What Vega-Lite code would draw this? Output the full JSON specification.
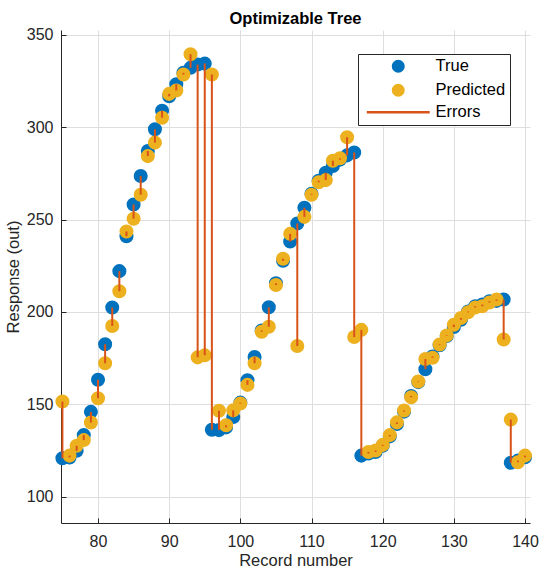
{
  "$schema": "https://vega.github.io/schema/vega-lite/v6.json",
  "autosize": {"type": "none"},
  "padding": {"left": 61, "top": 30, "right": 10, "bottom": 52},
  "width": 469,
  "height": 493,
  "background": "white",
  "title": {"text": "Optimizable Tree", "fontSize": 16.5, "fontWeight": "bold", "font": "Liberation Sans", "color": "#000000", "anchor": "middle", "frame": "group", "offset": -14, "baseline": "alphabetic"},
  "data": {"values": [
    {"r": 75, "True": 120.8, "Predicted": 151.5},
    {"r": 76, "True": 121.2, "Predicted": 122.2},
    {"r": 77, "True": 124.8, "Predicted": 127.5},
    {"r": 78, "True": 133.3, "Predicted": 130.6},
    {"r": 79, "True": 145.9, "Predicted": 140.1},
    {"r": 80, "True": 163.3, "Predicted": 153.3},
    {"r": 81, "True": 182.5, "Predicted": 172.2},
    {"r": 82, "True": 202.4, "Predicted": 192.4},
    {"r": 83, "True": 222.1, "Predicted": 211.2},
    {"r": 84, "True": 241.0, "Predicted": 243.6},
    {"r": 85, "True": 258.2, "Predicted": 250.5},
    {"r": 86, "True": 273.6, "Predicted": 263.5},
    {"r": 87, "True": 287.2, "Predicted": 284.4},
    {"r": 88, "True": 298.9, "Predicted": 291.7},
    {"r": 89, "True": 309.0, "Predicted": 305.2},
    {"r": 90, "True": 316.8, "Predicted": 318.1},
    {"r": 91, "True": 323.3, "Predicted": 319.9},
    {"r": 92, "True": 329.5, "Predicted": 328.6},
    {"r": 93, "True": 332.2, "Predicted": 339.6},
    {"r": 94, "True": 334.0, "Predicted": 175.4},
    {"r": 95, "True": 334.5, "Predicted": 176.5},
    {"r": 96, "True": 136.2, "Predicted": 328.6},
    {"r": 97, "True": 136.0, "Predicted": 146.5},
    {"r": 98, "True": 137.5, "Predicted": 138.6},
    {"r": 99, "True": 143.1, "Predicted": 146.7},
    {"r": 100, "True": 150.9, "Predicted": 150.4},
    {"r": 101, "True": 163.0, "Predicted": 160.5},
    {"r": 102, "True": 175.6, "Predicted": 172.2},
    {"r": 103, "True": 190.0, "Predicted": 189.3},
    {"r": 104, "True": 202.5, "Predicted": 192.0},
    {"r": 105, "True": 215.5, "Predicted": 214.6},
    {"r": 106, "True": 227.7, "Predicted": 228.8},
    {"r": 107, "True": 238.2, "Predicted": 242.3},
    {"r": 108, "True": 247.9, "Predicted": 181.6},
    {"r": 109, "True": 256.4, "Predicted": 251.5},
    {"r": 110, "True": 264.0, "Predicted": 263.5},
    {"r": 111, "True": 271.1, "Predicted": 270.2},
    {"r": 112, "True": 275.4, "Predicted": 271.4},
    {"r": 113, "True": 279.0, "Predicted": 281.9},
    {"r": 114, "True": 282.5, "Predicted": 283.2},
    {"r": 115, "True": 284.8, "Predicted": 294.6},
    {"r": 116, "True": 286.4, "Predicted": 186.4},
    {"r": 117, "True": 122.2, "Predicted": 190.3},
    {"r": 118, "True": 123.3, "Predicted": 124.2},
    {"r": 119, "True": 124.2, "Predicted": 125.0},
    {"r": 120, "True": 127.5, "Predicted": 128.0},
    {"r": 121, "True": 132.6, "Predicted": 133.3},
    {"r": 122, "True": 139.3, "Predicted": 140.2},
    {"r": 123, "True": 146.0, "Predicted": 146.6},
    {"r": 124, "True": 154.5, "Predicted": 153.8},
    {"r": 125, "True": 162.0, "Predicted": 162.3},
    {"r": 126, "True": 169.0, "Predicted": 174.5},
    {"r": 127, "True": 175.9, "Predicted": 175.2},
    {"r": 128, "True": 182.0, "Predicted": 182.4},
    {"r": 129, "True": 187.0, "Predicted": 187.3},
    {"r": 130, "True": 191.8, "Predicted": 193.1},
    {"r": 131, "True": 195.8, "Predicted": 196.7},
    {"r": 132, "True": 200.2, "Predicted": 199.8},
    {"r": 133, "True": 203.1, "Predicted": 202.4},
    {"r": 134, "True": 204.0, "Predicted": 203.1},
    {"r": 135, "True": 205.8, "Predicted": 205.1},
    {"r": 136, "True": 206.0, "Predicted": 206.7},
    {"r": 137, "True": 206.7, "Predicted": 185.1},
    {"r": 138, "True": 118.3, "Predicted": 141.7},
    {"r": 139, "True": 119.5, "Predicted": 118.6},
    {"r": 140, "True": 121.3, "Predicted": 122.2}
  ]},
  "encoding": {
    "x": {"field": "r", "type": "quantitative",
      "scale": {"domain": [74.8, 140.7], "nice": false, "zero": false},
      "axis": {"values": [80, 90, 100, 110, 120, 130, 140], "title": "Record number", "grid": true}}
  },
  "layer": [
    {
      "transform": [{"fold": ["True", "Predicted"], "as": ["series", "value"]}],
      "mark": {"type": "point", "filled": true, "opacity": 1, "size": 145},
      "encoding": {
        "y": {"field": "value", "type": "quantitative",
          "scale": {"domain": [85.7, 352.7], "nice": false, "zero": false},
          "axis": {"values": [100, 150, 200, 250, 300, 350], "title": "Response (out)", "grid": true}},
        "order": {"field": "series", "sort": "descending"},
        "color": {"field": "series", "type": "nominal",
          "scale": {"domain": ["True", "Predicted", "Errors"], "range": ["#0072BD", "#EDB120", "#D95319"]},
          "legend": {"title": null, "orient": "none", "legendX": 297, "legendY": 24}},
        "stroke": {"field": "series", "type": "nominal",
          "scale": {"domain": ["True", "Predicted", "Errors"], "range": ["#0072BD", "#EDB120", "#D95319"]},
          "legend": {"title": null, "orient": "none", "legendX": 297, "legendY": 24}},
        "shape": {"field": "series", "type": "nominal",
          "scale": {"domain": ["True", "Predicted", "Errors"], "range": ["circle", "circle", "M-6,0H6"]},
          "legend": {"title": null, "orient": "none", "legendX": 297, "legendY": 24}}
      }
    },
    {
      "mark": {"type": "rule", "color": "#D95319", "strokeWidth": 2},
      "encoding": {
        "y": {"field": "True", "type": "quantitative"},
        "y2": {"field": "Predicted"}
      }
    }
  ],
  "config": {
    "view": {"stroke": null},
    "font": "Liberation Sans",
    "axis": {
      "labelFont": "Liberation Sans", "labelFontSize": 16, "labelColor": "#262626",
      "titleFont": "Liberation Sans", "titleFontSize": 16.5, "titleFontWeight": "normal", "titleColor": "#262626",
      "domainColor": "#262626", "domainWidth": 1, "tickColor": "#262626", "tickSize": -5, "tickWidth": 1,
      "gridColor": "#dedede", "gridWidth": 1
    },
    "axisX": {"labelPadding": 15, "titlePadding": 3},
    "axisY": {"labelPadding": 13, "titlePadding": 5},
    "legend": {
      "fillColor": "white", "strokeColor": "#262626", "strokeWidth": 1,
      "padding": 4, "cornerRadius": 0,
      "labelFont": "Liberation Sans", "labelFontSize": 16.5, "labelColor": "#000000",
      "symbolSize": 110, "symbolStrokeWidth": 2.5,
      "symbolOffset": 28, "labelOffset": 29, "rowPadding": 3
    }
  }
}
